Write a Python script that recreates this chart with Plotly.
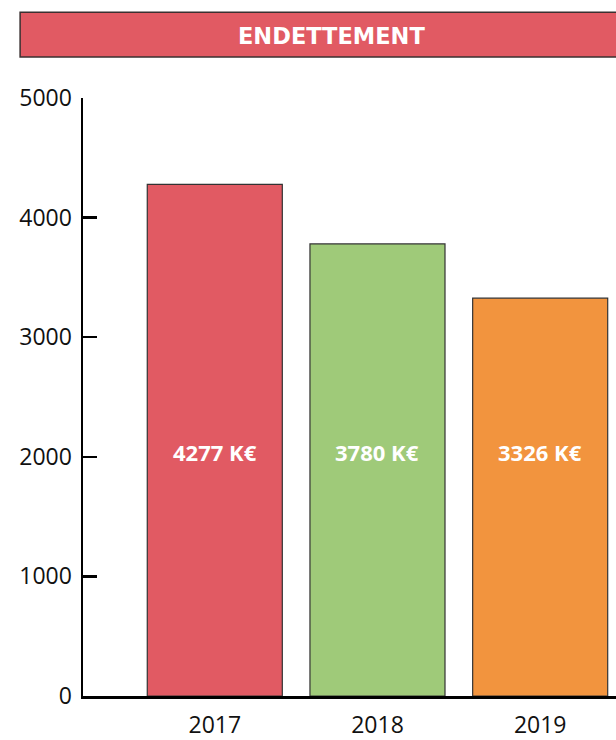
import plotly.graph_objects as go

years = ["2017", "2018", "2019"]
debt = [4277, 3780, 3326]
bar_colors = ["#E15A63", "#9FCA79", "#F2943E"]
labels = [f"{v} K€" for v in debt]
y_ticks = [0, 1000, 2000, 3000, 4000, 5000]
title_text = "ENDETTEMENT"

LABEL_Y = 2040  # vertical position of the value labels (data units)

fig = go.Figure()
fig.add_trace(go.Bar(
    x=years, y=debt,
    marker=dict(color=bar_colors, line=dict(color="#333333", width=1.2)),
    width=0.83,
    hoverinfo="skip",
))

for i, lab in enumerate(labels):
    fig.add_annotation(x=i, y=LABEL_Y, text=lab, showarrow=False,
                       font=dict(family="Open Sans", size=22, color="white", weight="bold"),
                       xanchor="center", yanchor="middle")

# title banner
fig.add_shape(type="rect", xref="paper", yref="paper",
              x0=-0.118, x1=1.07, y0=1.0684, y1=1.1436,
              fillcolor="#E15A63", line=dict(color="#3a3030", width=1.5), layer="above")
fig.add_annotation(xref="paper", yref="paper", x=0.466, y=1.103, text=title_text,
                   showarrow=False, xanchor="center", yanchor="middle",
                   font=dict(family="DejaVu Sans", size=22.5, color="white", weight="bold"))

fig.update_layout(
    width=616, height=740,
    margin=dict(l=83, r=0, t=98, b=44, autoexpand=False),
    paper_bgcolor="white", plot_bgcolor="white",
    showlegend=False,
    font=dict(family="Open Sans", size=23, color="#111111"),
    xaxis=dict(
        type="category", range=[-0.81, 2.466], automargin=False,
        showline=True, linecolor="black", linewidth=2.5,
        ticks="", showgrid=False, zeroline=False,
        tickfont=dict(family="Open Sans", size=23, color="#111111"),
        ticklabelstandoff=7,
    ),
    yaxis=dict(
        range=[0, 5000], tickvals=y_ticks, automargin=False,
        showline=True, linecolor="black", linewidth=2.5,
        ticks="inside", ticklen=14, tickwidth=2.5, tickcolor="black",
        showgrid=False, zeroline=False,
        tickfont=dict(family="Open Sans", size=23, color="#111111"),
        ticklabelstandoff=4,
    ),
)

fig.write_html("out.html",
               config={"displayModeBar": False, "staticPlot": True},
               post_script="document.body.style.margin='0';document.body.style.overflow='hidden';")
